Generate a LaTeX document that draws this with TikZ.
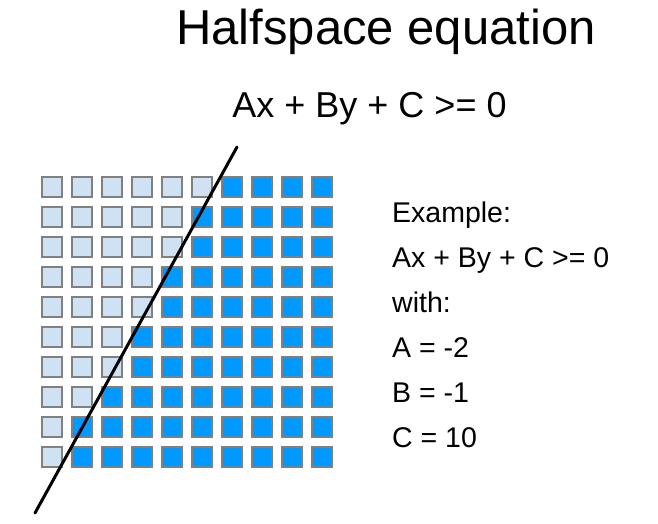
\documentclass[tikz,border=0pt]{standalone}
\usepackage{fontspec}
\setmainfont{Liberation Sans}
\definecolor{lightcell}{HTML}{CFE2F3}
\definecolor{darkcell}{HTML}{0099FF}
\begin{document}
\begin{tikzpicture}[x=1pt, y=-1pt, line join=round, line cap=round]
	\useasboundingbox (0,0) rectangle (658,523);
	\tikzset{cell/.style={draw=gray, line width=1.2pt, line cap=butt, line join=miter},
		bigtext/.style={font=\fontsize{49}{54}\selectfont},
		midtext/.style={font=\fontsize{36}{40}\selectfont},
		smalltext/.style={font=\fontsize{28.5}{32}\selectfont}}
	\path (386,44) node[anchor=base, bigtext] (title) {Halfspace equation}
		(369.5,117) node[anchor=base, midtext] (eqn) {Ax + By + C >= 0};
	% grid of pixels, \n light cells per row
	\foreach \r/\n in {0/6,1/5,2/5,3/4,4/4,5/3,6/3,7/2,8/1,9/1}
		\foreach \c in {0,...,9} {
			\ifnum\c<\n \def\col{lightcell}\else\def\col{darkcell}\fi
			\filldraw[cell, fill=\col] (42+30*\c, 177+30*\r) rectangle ++(20,20);
		}
	\path (237,147) coordinate (P)
		(35,513) coordinate (Q);
	\draw[line width=3pt] (P) -- (Q);
	\foreach \t [count=\i] in {Example:, Ax + By + C >= 0, with:, A = -2, B = -1, C = 10}
		\node[anchor=base west, smalltext, inner xsep=0pt] (ex\i) at (392, 177+45*\i) {\t};
\end{tikzpicture}
\end{document}
